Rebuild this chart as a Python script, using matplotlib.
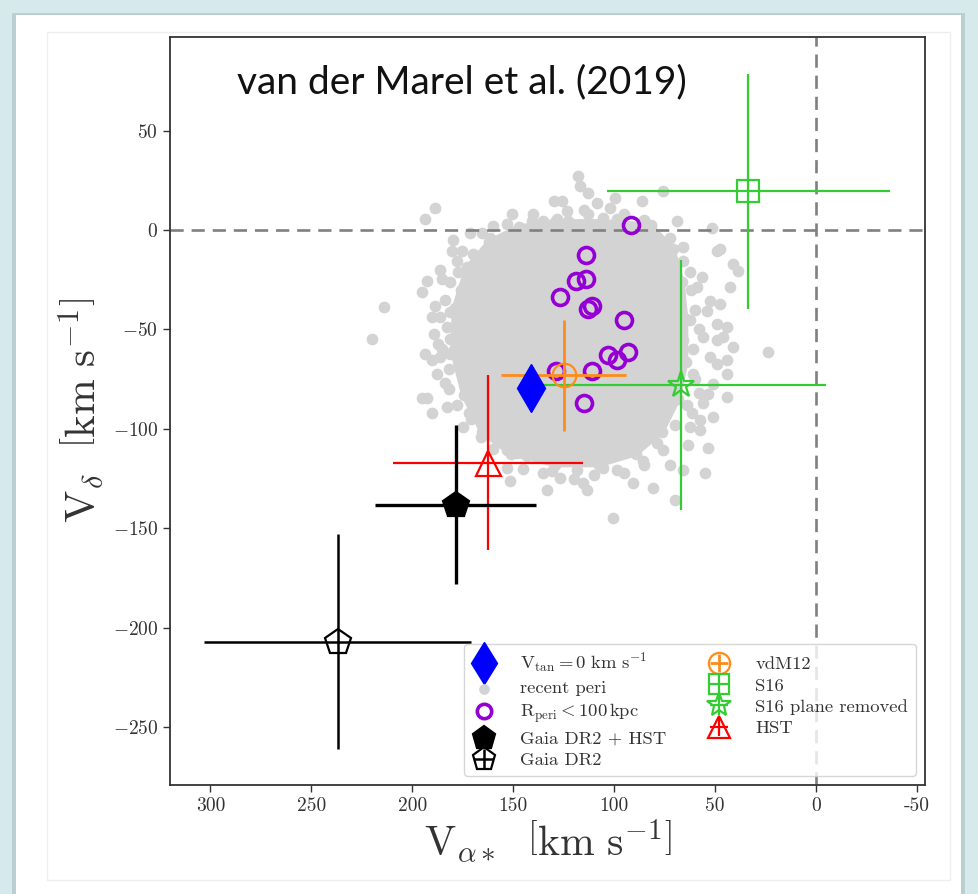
import matplotlib
matplotlib.use("Agg")
import matplotlib.pyplot as plt
from matplotlib.patches import Rectangle, Polygon

plt.rcParams['font.family'] = 'serif'
plt.rcParams['font.serif'] = ['cmr10']
plt.rcParams['mathtext.fontset'] = 'cm'
plt.rcParams['axes.formatter.use_mathtext'] = True

# points (V_alpha*, V_delta) in km/s
vtan0 = (141, -79.5)
rperi_x = [91.6, 114, 118.8, 113.9, 127, 113, 111, 94.9, 103.1, 98.7, 93, 128.7, 111, 115]
rperi_y = [2.5, -12.5, -25.5, -24.5, -33.5, -39.5, -38.3, -45, -62.7, -65.5, -61.4, -70.8, -71, -87]

# (x, y, xerr, yerr)
vdm12 = (125, -73, 31, 28)
s16 = (33.5, 19.5, 70, 59)
s16_plane = (67, -78, 72, 63)
hst = (162.5, -117, 47, 44)
gaia_hst = (178.5, -138, 40, 40)
gaia = (237, -207, 66, 54)

# dense core of the "recent peri" cloud (outline)
core_x = [147.2, 129.1, 105.4, 81.9, 71.0, 66.4, 64.6, 64.6, 68.3, 76.4, 89.2, 107.3,
          129.1, 150.9, 165.4, 174.4, 179.9, 179.0, 172.7, 161.8]
core_y = [1.4, 4.1, 4.1, 2.3, -9.6, -26.1, -44.5, -66.5, -84.9, -101.4, -112.4, -117.9,
          -117.9, -112.4, -101.4, -83.0, -61.0, -39.0, -18.9, -6.0]

# scattered "recent peri" points around the core
peri_x = [117.7, 116.8, 112.7, 108.6, 130.0, 125.9, 123.4, 112.7, 102.0, 99.5, 86.3, 75.6,
          150.7, 153.1, 140.8, 135.0, 128.4, 122.6, 105.3, 98.7, 69.0, 51.7, 188.6, 193.6,
          171.3, 165.5, 161.4,
          180.4, 175.4, 177.9, 172.9, 177.1, 192.7, 195.2, 185.3, 181.2, 214.2, 188.6, 190.3,
          186.1, 181.2, 182.8, 189.4, 187.0, 220.0, 181.2, 193.6, 190.3, 186.1, 181.2, 187.8,
          182.0, 195.2, 192.7, 190.3, 182.8, 182.0, 174.6, 172.1, 168.0,
          158.1, 153.1, 148.2, 135.0, 130.9, 133.3, 126.7, 118.5, 115.2, 113.5, 105.3, 98.7,
          90.4, 85.5, 80.5, 72.3, 69.8, 65.7, 63.2, 53.3, 55.0, 75.6, 78.9, 100.3, 151.5,
          153.1, 143.2,
          65.7, 65.7, 62.4, 59.1, 52.5, 47.5, 42.6, 40.9, 38.5, 49.2, 47.5, 56.6, 54.1, 49.2,
          44.2, 45.9, 40.9, 49.2, 55.8, 52.5, 49.2, 44.2, 44.2, 50.8, 44.2, 53.3, 55.8, 50.8,
          57.4, 61.6, 62.4, 57.4, 23.6, 65.7, 60.7, 65.7, 68.2, 62.4, 72.3, 75.6,
          176, 184, 178, 185, 176, 184, 178, 171, 166, 160, 186, 170, 180,
          62, 60, 58, 61, 60, 64, 70, 58,
          145, 120, 95, 85, 110, 140, 115, 95, 160, 85]
peri_y = [27.0, 22.0, 18.7, 13.7, 14.8, 14.8, 9.5, 7.8, 11.2, 16.2, 14.5, 19.8,
          7.8, 2.8, 4.5, 4.5, 5.3, 4.5, 6.2, 5.3, 4.5, 1.2, 11.2, 5.3,
          -1.3, -1.3, -3.8,
          -10.5, -10.5, -15.5, -18.8, -21.3, -25.5, -31.3, -24.7, -26.3, -38.8, -38.0, -43.8,
          -43.8, -41.3, -48.8, -52.2, -57.2, -54.7, -54.7, -62.2, -65.5, -63.8, -62.2, -72.2,
          -69.7, -84.7, -84.7, -92.2, -88.8, -79.7, -98.8, -92.2, -88.8,
          -105.5, -110.5, -112.2, -122.2, -121.3, -130.5, -124.7, -120.5, -127.2, -130.5, -119.7, -120.5,
          -127.2, -116.3, -129.7, -118.0, -135.5, -120.5, -108.0, -109.7, -122.2, -110.5, -107.2, -144.7, -126.3,
          -119.7, -113.8,
          -8.8, -15.5, -21.3, -28.8, -35.5, -37.2, -28.8, -17.2, -20.5, -10.5, -9.7, -23.8, -40.5, -47.2,
          -48.8, -53.8, -58.8, -55.5, -53.8, -63.8, -67.2, -65.5, -72.2, -77.2, -83.8, -82.2, -87.2, -93.8,
          -95.5, -92.2, -98.8, -100.5, -61.3, -65.5, -72.2, -55.5, -48.8, -45.5, -3.8, -10.5,
          -30, -35, -48, -60, -68, -77, -88, -95, -104, -110, -20, -12, -5,
          -30, -40, -50, -60, -75, -88, -98, -82,
          -120, -125, -122, -118, -123, 8, 10, 8, 2, 5]

xticks = [300, 250, 200, 150, 100, 50, 0, -50]
xticklabels = ['300', '250', '200', '150', '100', '50', '0', '-50']
yticks = [50, 0, -50, -100, -150, -200, -250]

fig = plt.figure(figsize=(9.79, 8.94), dpi=100)
fig.patch.set_facecolor('#d6eaec')
# card behind the plot
fig.patches.append(Rectangle((0.0125, 0.0), 0.973, 0.985, transform=fig.transFigure,
                             facecolor='#b9cfd2', edgecolor='none', zorder=-3))
fig.patches.append(Rectangle((0.016, 0.0), 0.966, 0.983, transform=fig.transFigure,
                             facecolor='white', edgecolor='none', zorder=-2))
fig.patches.append(Rectangle((0.048, 0.0157), 0.922, 0.948, transform=fig.transFigure,
                             facecolor='none', edgecolor='#eeeeee', lw=1, zorder=-1))

ax = fig.add_axes([0.1736, 0.1219, 0.7712, 0.8367])

grey = '#d3d3d3'
ax.add_patch(Polygon(list(zip(core_x, core_y)), closed=True, facecolor=grey,
                     edgecolor=grey, lw=4, zorder=1))
ax.scatter(core_x, core_y, s=55, color=grey, zorder=1)
h_peri = ax.scatter(peri_x, peri_y, s=55, color=grey, zorder=1, label='recent peri')

ax.axhline(0, color='gray', ls='--', lw=1.9, dashes=(5, 3), zorder=2)
ax.axvline(0, color='gray', ls='--', lw=1.9, dashes=(5, 3), zorder=2)

h_rperi, = ax.plot(rperi_x, rperi_y, 'o', ms=11.5, mfc='none', mec='darkviolet', mew=2.6,
                   ls='none', zorder=3, label=r'$\mathrm{R_{peri} < 100\,kpc}$')

def ebar(p, color, marker, ms, label, mfc='none', lw=1.6, z=4):
    return ax.errorbar(p[0], p[1], xerr=p[2], yerr=p[3], fmt=marker, ms=ms, mfc=mfc,
                       mec=color, mew=1.6, color=color, ecolor=color, elinewidth=lw,
                       capsize=0, zorder=z, label=label)

h_s16 = ebar(s16, '#33cc33', 's', 16, 'S16')
h_s16p = ebar(s16_plane, '#33cc33', '*', 20, 'S16 plane removed')
h_vdm = ebar(vdm12, '#ff8c1a', 'o', 17, 'vdM12', lw=2.0)
h_hst = ebar(hst, 'red', '^', 18, 'HST')
h_ghst = ebar(gaia_hst, 'black', 'p', 19, 'Gaia DR2 + HST', mfc='black', lw=2.4)
h_gaia = ebar(gaia, 'black', 'p', 19, 'Gaia DR2', lw=1.8)

h_vtan, = ax.plot(vtan0[0], vtan0[1], 'd', ms=24, color='blue', ls='none', zorder=5,
                  label=r'$\mathrm{V_{tan} = 0\ km\ s^{-1}}$')

ax.set_xlim(320, -54)
ax.set_ylim(-279, 97)
ax.set_xticks(xticks)
ax.set_xticklabels(xticklabels)
ax.set_yticks(yticks)
ax.tick_params(direction='out', length=5, width=1, labelsize=14, colors='#333333')
for s in ax.spines.values():
    s.set_linewidth(1.3)
    s.set_color('#333333')

ax.set_xlabel(r'$\mathrm{V}_{\alpha *}\ \ \left[\mathrm{km\ s^{-1}}\right]$', fontsize=30,
              labelpad=2, color='#333333')
ax.set_ylabel(r'$\mathrm{V}_{\delta}\ \ \left[\mathrm{km\ s^{-1}}\right]$', fontsize=31,
              labelpad=4, color='#333333')

ax.text(0.387, 0.94, 'van der Marel et al. (2019)', transform=ax.transAxes, ha='center',
        va='center', fontsize=28, family='Lato', color='#111111')

handles = [h_vtan, h_peri, h_rperi, h_ghst, h_gaia, h_vdm, h_s16, h_s16p, h_hst]
labels = [h.get_label() for h in handles]
leg = ax.legend(handles, labels, loc='lower right', ncol=2, fontsize=13.4,
                handlelength=1.3, handletextpad=1.3, columnspacing=2.2,
                labelspacing=0.28, borderpad=0.4, fancybox=True, framealpha=0.8,
                edgecolor='#cccccc', markerscale=0.9)
for t in leg.get_texts():
    t.set_color('#333333')

fig.savefig('out.png', dpi=100, facecolor=fig.get_facecolor())
